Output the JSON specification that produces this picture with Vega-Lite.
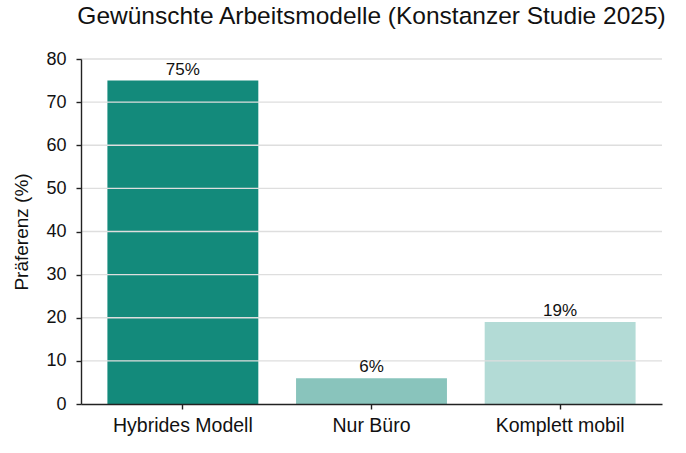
{
  "$schema": "https://vega.github.io/schema/vega-lite/v6.json",
  "autosize": "none",
  "width": 581,
  "height": 345,
  "padding": {"left": 81, "top": 59, "right": 24, "bottom": 49},
  "background": "white",
  "config": {
    "font": "Liberation Sans",
    "view": {"stroke": null},
    "axis": {
      "domainColor": "#222222",
      "domainWidth": 1.4,
      "tickColor": "#222222",
      "tickWidth": 1.4,
      "tickSize": 5,
      "labelColor": "#111111",
      "titleColor": "#111111",
      "labelFontSize": 18,
      "titleFontSize": 19,
      "titleFontWeight": "normal"
    }
  },
  "title": {
    "text": "Gewünschte Arbeitsmodelle (Konstanzer Studie 2025)",
    "fontSize": 24.5,
    "fontWeight": "normal",
    "color": "#111111",
    "anchor": "middle",
    "frame": "group",
    "offset": 21
  },
  "datasets": {
    "modelle": [
      {"modell": "Hybrides Modell", "anteil": 75, "label": "75%"},
      {"modell": "Nur Büro", "anteil": 6, "label": "6%"},
      {"modell": "Komplett mobil", "anteil": 19, "label": "19%"}
    ],
    "gitter": [
      {"wert": 10}, {"wert": 20}, {"wert": 30}, {"wert": 40},
      {"wert": 50}, {"wert": 60}, {"wert": 70}, {"wert": 80}
    ]
  },
  "layer": [
    {
      "data": {"name": "modelle"},
      "mark": {"type": "bar"},
      "encoding": {
        "x": {
          "field": "modell",
          "type": "nominal",
          "sort": null,
          "scale": {"paddingInner": 0.2, "paddingOuter": 0.14},
          "axis": {"title": null, "labelAngle": 0, "labelPadding": 7, "labelFontSize": 19.5, "grid": false, "zindex": 2}
        },
        "y": {
          "field": "anteil",
          "type": "quantitative",
          "scale": {"domain": [0, 80], "nice": false},
          "axis": {
            "title": "Präferenz (%)",
            "values": [0, 10, 20, 30, 40, 50, 60, 70, 80],
            "grid": false,
            "zindex": 2,
            "labelPadding": 10,
            "titlePadding": 14
          }
        },
        "color": {
          "field": "modell",
          "type": "nominal",
          "scale": {
            "domain": ["Hybrides Modell", "Nur Büro", "Komplett mobil"],
            "range": ["#138a7b", "#89c4bc", "#b3dbd6"]
          },
          "legend": null
        }
      }
    },
    {
      "data": {"name": "gitter"},
      "mark": {"type": "rule", "color": "#dedede", "strokeWidth": 1.3},
      "encoding": {
        "y": {"field": "wert", "type": "quantitative"}
      }
    },
    {
      "data": {"name": "modelle"},
      "mark": {"type": "text", "baseline": "bottom", "dy": -2, "fontSize": 17, "color": "#111111"},
      "encoding": {
        "x": {"field": "modell", "type": "nominal", "sort": null},
        "y": {"field": "anteil", "type": "quantitative"},
        "text": {"field": "label", "type": "nominal"}
      }
    }
  ]
}
